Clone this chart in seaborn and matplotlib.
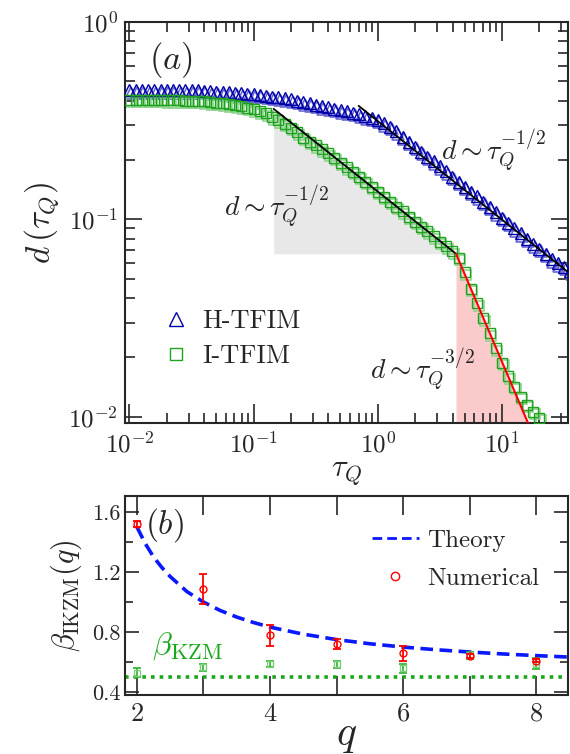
import matplotlib
matplotlib.use("Agg")
import matplotlib.pyplot as plt
import matplotlib.transforms as mtransforms
from matplotlib.lines import Line2D
from matplotlib.ticker import LogLocator, MultipleLocator, NullFormatter
import seaborn as sns

# ---- panel (a) data ----
tau = [0.0100, 0.0112, 0.0126, 0.0141, 0.0158, 0.0178, 0.0200, 0.0224, 0.0251, 0.0282,
       0.0316, 0.0355, 0.0398, 0.0447, 0.0501, 0.0562, 0.0631, 0.0708, 0.0794, 0.0891,
       0.100, 0.112, 0.126, 0.141, 0.158, 0.178, 0.200, 0.224, 0.251, 0.282,
       0.316, 0.355, 0.398, 0.447, 0.501, 0.562, 0.631, 0.708, 0.794, 0.891,
       1.00, 1.12, 1.26, 1.41, 1.58, 1.78, 2.00, 2.24, 2.51, 2.82,
       3.16, 3.55, 3.98, 4.47, 5.01, 5.62, 6.31, 7.08, 7.94, 8.91,
       10.0, 11.2, 12.6, 14.1, 15.8, 17.8, 20.0, 22.4, 25.1, 28.2,
       31.6, 35.5]
d_htfim = [0.452, 0.452, 0.452, 0.452, 0.452, 0.452, 0.452, 0.452, 0.452, 0.452,
           0.452, 0.450, 0.448, 0.446, 0.444, 0.442, 0.440, 0.437, 0.435, 0.433,
           0.431, 0.427, 0.423, 0.419, 0.415, 0.411, 0.407, 0.400, 0.393, 0.387,
           0.381, 0.375, 0.369, 0.364, 0.358, 0.353, 0.347, 0.340, 0.334, 0.327,
           0.320, 0.307, 0.295, 0.279, 0.263, 0.248, 0.233, 0.220, 0.208, 0.197,
           0.186, 0.175, 0.164, 0.155, 0.146, 0.138, 0.131, 0.123, 0.116, 0.109,
           0.102, 0.096, 0.090, 0.085, 0.080, 0.075, 0.071, 0.067, 0.063, 0.060,
           0.0575, 0.0545]
d_itfim = [0.403, 0.403, 0.403, 0.403, 0.403, 0.403, 0.402, 0.402, 0.401, 0.400,
           0.399, 0.398, 0.396, 0.393, 0.390, 0.387, 0.383, 0.379, 0.374, 0.368,
           0.361, 0.353, 0.345, 0.330, 0.318, 0.306, 0.291, 0.276, 0.259, 0.248,
           0.238, 0.227, 0.216, 0.205, 0.194, 0.184, 0.174, 0.164, 0.155, 0.146,
           0.138, 0.130, 0.123, 0.116, 0.110, 0.103, 0.0975, 0.092, 0.087, 0.082,
           0.077, 0.073, 0.069, 0.064, 0.054, 0.0445, 0.0375, 0.0315, 0.0265, 0.0222,
           0.0188, 0.0160, 0.0142, 0.0126, 0.0115, 0.0106, 0.0099]

# power-law guides (end points)
fit_h_tau = [0.70, 33.5]
fit_h_d = [0.376, 0.0545]
fit_i_tau = [0.145, 4.26]
fit_i_d = [0.363, 0.067]
fit_r_tau = [4.26, 16.2]
fit_r_d = [0.067, 0.0093]

# ---- panel (b) data ----
theory_q = [2.0, 2.125, 2.25, 2.375, 2.5, 2.75, 3.0, 3.25, 3.5, 3.75, 4.0,
            4.5, 5.0, 5.5, 6.0, 6.5, 7.0, 7.5, 8.0, 8.5]
theory_beta = [1.50, 1.39, 1.30, 1.23, 1.17, 1.07, 1.00, 0.944, 0.900, 0.864, 0.833,
               0.786, 0.750, 0.722, 0.700, 0.682, 0.667, 0.654, 0.643, 0.633]
num_q = [2, 3, 4, 5, 6, 7, 8]
num_beta = [1.52, 1.09, 0.78, 0.72, 0.66, 0.64, 0.61]
num_err = [0.02, 0.10, 0.07, 0.035, 0.05, 0.015, 0.012]
kzm_beta = [0.53, 0.565, 0.59, 0.585, 0.56, 0.645, 0.59]
kzm_err = [0.03, 0.025, 0.02, 0.025, 0.03, 0.025, 0.035]
beta_kzm = 0.5

sns.set_style("ticks")
plt.rcParams["font.family"] = "serif"
plt.rcParams["font.serif"] = ["cmr10", "DejaVu Serif"]
plt.rcParams["mathtext.fontset"] = "cm"
plt.rcParams["axes.unicode_minus"] = False
plt.rcParams["axes.formatter.use_mathtext"] = True
plt.rcParams["axes.linewidth"] = 1.5

fig = plt.figure(figsize=(5.7, 7.54), dpi=100)
ax1 = fig.add_axes([0.2193, 0.4390, 0.7772, 0.5318])
ax2 = fig.add_axes([0.2193, 0.0782, 0.7772, 0.2639])

blue = "#0000aa"
green = "#1fa31f"

# shaded regions
ax1.fill_between(fit_i_tau, [fit_i_d[1], fit_i_d[1]], fit_i_d, color="#e8e8e8", lw=0, zorder=0)
ax1.fill_between(fit_r_tau, [0.005, 0.005], fit_r_d, color="#fbcaca", lw=0, zorder=0)

# shadow copies of markers
sh = mtransforms.offset_copy(ax1.transData, fig=fig, x=1.5, y=-2.5, units="dots")
ax1.plot(tau, d_htfim, ls="none", marker="^", ms=8, mfc="none", mec="#6a6ad0",
         mew=1.2, transform=sh, zorder=2)
ax1.plot(tau[:len(d_itfim)], d_itfim, ls="none", marker="s", ms=7, mfc="none",
         mec="#8fd48f", mew=1.2, transform=sh, zorder=2)

sns.lineplot(x=tau, y=d_htfim, ax=ax1, color=blue, linestyle="none", marker="^",
             markersize=8, markerfacecolor="none", markeredgecolor=blue,
             markeredgewidth=1.0, zorder=3)
sns.lineplot(x=tau[:len(d_itfim)], y=d_itfim, ax=ax1, color=green, linestyle="none",
             marker="s", markersize=7, markerfacecolor="none", markeredgecolor=green,
             markeredgewidth=1.0, zorder=3)

ax1.plot(fit_h_tau, fit_h_d, color="black", lw=1.3, zorder=4)
ax1.plot(fit_i_tau, fit_i_d, color="black", lw=1.3, zorder=4)
ax1.plot(fit_r_tau, fit_r_d, color="red", lw=1.5, zorder=4)

ax1.set_xscale("log")
ax1.set_yscale("log")
ax1.set_xlim(0.0092, 34)
ax1.set_ylim(0.0093, 1.0)
ax1.xaxis.set_minor_locator(LogLocator(base=10, subs=range(2, 10), numticks=20))
ax1.yaxis.set_minor_locator(LogLocator(base=10, subs=range(2, 10), numticks=20))
ax1.xaxis.set_minor_formatter(NullFormatter())
ax1.yaxis.set_minor_formatter(NullFormatter())
ax1.tick_params(which="both", direction="in", top=True, right=True, labelsize=18, width=1.2)
ax1.tick_params(axis="x", which="major", length=14, pad=6)
ax1.tick_params(axis="y", which="major", length=12, pad=5)
ax1.tick_params(which="minor", length=7)
ax1.set_xlabel(r"$\tau_Q$", fontsize=22, labelpad=2)
ax1.set_ylabel(r"$d\,(\tau_Q)$", fontsize=24)
ax1.yaxis.set_label_coords(-0.145, 0.5)

ax1.text(0.055, 0.955, r"$(a)$", transform=ax1.transAxes, fontsize=25, va="top")
ax1.text(3.2, 0.223, r"$d\sim\tau_Q^{-1/2}$", fontsize=20, va="center")
ax1.text(0.058, 0.115, r"$d\sim\tau_Q^{-1/2}$", fontsize=20, va="center")
ax1.text(0.86, 0.0173, r"$d\sim\tau_Q^{-3/2}$", fontsize=20, va="center")

h1 = [Line2D([], [], ls="none", marker="^", ms=10, mfc="none", mec=blue, mew=1.0),
      Line2D([], [], ls="none", marker="s", ms=9, mfc="none", mec=green, mew=1.0)]
ax1.legend(h1, ["H-TFIM", "I-TFIM"], loc="lower left", bbox_to_anchor=(0.05, 0.09),
           frameon=False, fontsize=19, handlelength=0.8, handletextpad=0.6,
           labelspacing=0.45, borderpad=0.2)

# ---- panel (b) ----
sns.lineplot(x=theory_q, y=theory_beta, ax=ax2, color="#0a18ff", lw=2.6,
             linestyle=(0, (3.5, 1.8)), label="Theory", zorder=3)
ax2.axhline(beta_kzm, color="#1aa81a", lw=2.6, ls=(0, (1, 1.4)), zorder=2)
ax2.errorbar(num_q, kzm_beta, yerr=kzm_err, fmt="s", ms=4, mfc="none", mec="#7ccf7c",
             ecolor="#2bb02b", elinewidth=1.2, capsize=3, capthick=1.2, zorder=4)
ax2.errorbar(num_q, num_beta, yerr=num_err, fmt="o", ms=5, mfc="none", mec="red",
             ecolor="red", elinewidth=1.3, capsize=3, capthick=1.3, zorder=5)

ax2.set_xlim(1.82, 8.48)
ax2.set_ylim(0.38, 1.707)
ax2.set_xticks(num_q)
ax2.set_xticklabels(["2", "", "4", "", "6", "", "8"])
ax2.set_yticks([0.4, 0.8, 1.2, 1.6])
ax2.set_yticklabels(["0.4", "0.8", "1.2", "1.6"])
ax2.yaxis.set_minor_locator(MultipleLocator(0.2))
ax2.tick_params(which="both", direction="in", top=True, right=True, width=1.2)
ax2.tick_params(axis="x", which="major", length=14, labelsize=19, pad=5)
ax2.tick_params(axis="y", which="major", length=10, labelsize=16, pad=3)
ax2.tick_params(axis="y", which="minor", length=6)
ax2.set_xlabel(r"$q$", fontsize=30, labelpad=-6)
ax2.set_ylabel(r"$\beta_{\mathrm{IKZM}}(q)$", fontsize=22, labelpad=6)

ax2.text(0.045, 0.95, r"$(b)$", transform=ax2.transAxes, fontsize=24, va="top")
ax2.text(2.22, 0.655, r"$\beta_{\mathrm{KZM}}$", fontsize=23, color="#1aa81a")

h2 = [Line2D([], [], color="#0a18ff", lw=2.0, ls=(0, (3.5, 1.8))),
      Line2D([], [], ls="none", marker="o", ms=6, mfc="none", mec="red", mew=1.0)]
ax2.legend(h2, ["Theory", "Numerical"], loc="upper right", bbox_to_anchor=(0.985, 0.945),
           frameon=False, fontsize=18, handlelength=1.9, handletextpad=0.3,
           labelspacing=0.6, markerfirst=True)

fig.savefig("out.png", dpi=100)
